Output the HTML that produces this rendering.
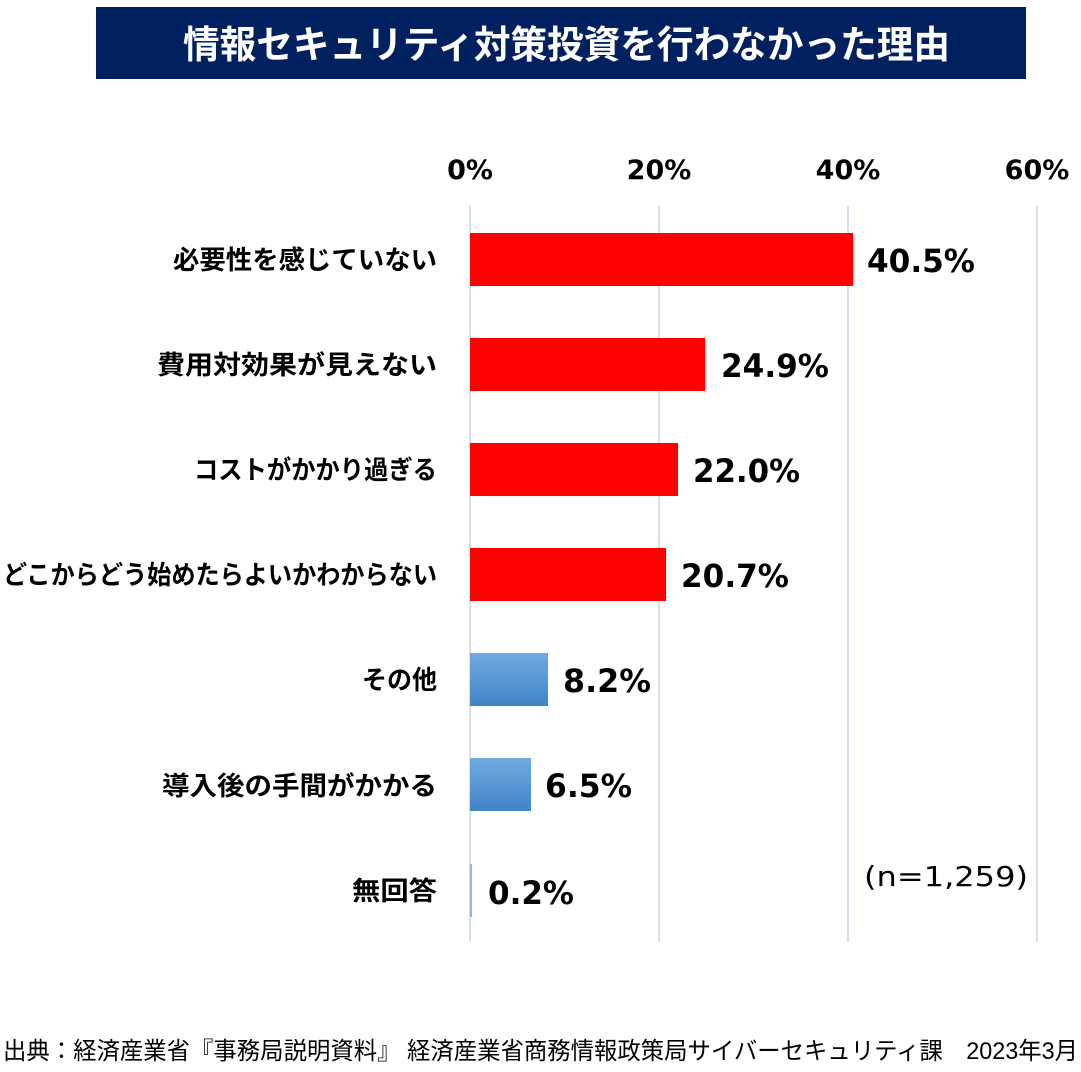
<!DOCTYPE html>
<html>
<head>
<meta charset="utf-8">
<style>
  html,body{margin:0;padding:0;background:#fff;}
  svg{display:block;}
  .cat{font-family:"Liberation Sans","Noto Sans CJK JP",sans-serif;font-weight:bold;font-size:26px;fill:#000;}
  .val{font-family:"DejaVu Sans","Liberation Sans",sans-serif;font-weight:bold;font-size:32px;fill:#000;}
  .ax{font-family:"DejaVu Sans","Liberation Sans",sans-serif;font-weight:bold;font-size:27px;fill:#000;}
</style>
</head>
<body>
<svg width="1081" height="1072" viewBox="0 0 1081 1072" xmlns="http://www.w3.org/2000/svg">
  <defs>
    <linearGradient id="blue" x1="0" y1="0" x2="0" y2="1">
      <stop offset="0" stop-color="#72A9DF"/>
      <stop offset="1" stop-color="#4184C8"/>
    </linearGradient>
  </defs>
  <rect x="0" y="0" width="1081" height="1072" fill="#fff"/>

  <!-- Title -->
  <rect x="96" y="7" width="930" height="72" fill="#002060"/>
  <text x="183" y="58" font-family="Liberation Sans, Noto Sans CJK JP, sans-serif" font-weight="bold" font-size="38" fill="#fff" textLength="767" lengthAdjust="spacingAndGlyphs">情報セキュリティ対策投資を行わなかった理由</text>

  <!-- Axis labels -->
  <text class="ax" x="470" y="179" text-anchor="middle">0%</text>
  <text class="ax" x="659" y="179" text-anchor="middle">20%</text>
  <text class="ax" x="848" y="179" text-anchor="middle">40%</text>
  <text class="ax" x="1037" y="179" text-anchor="middle">60%</text>

  <!-- Gridlines -->
  <g stroke="#D9DFEA" stroke-width="2">
    <line x1="470" y1="206" x2="470" y2="942"/>
    <line x1="659" y1="206" x2="659" y2="942"/>
    <line x1="848" y1="206" x2="848" y2="942"/>
    <line x1="1037" y1="206" x2="1037" y2="942"/>
  </g>

  <!-- Bars -->
  <rect x="470" y="233" width="383" height="53" fill="#FF0000"/>
  <rect x="470" y="338" width="235" height="53" fill="#FF0000"/>
  <rect x="470" y="443" width="208" height="53" fill="#FF0000"/>
  <rect x="470" y="548" width="196" height="53" fill="#FF0000"/>
  <rect x="470" y="653" width="78" height="53" fill="url(#blue)"/>
  <rect x="470" y="758" width="61" height="53" fill="url(#blue)"/>
  <rect x="470" y="864" width="2" height="53" fill="#8DB9E6"/>

  <!-- Category labels -->
  <text class="cat" x="437" y="269" text-anchor="end" textLength="264" lengthAdjust="spacingAndGlyphs">必要性を感じていない</text>
  <text class="cat" x="437" y="374" text-anchor="end" textLength="280" lengthAdjust="spacingAndGlyphs">費用対効果が見えない</text>
  <text class="cat" x="437" y="479" text-anchor="end" textLength="243" lengthAdjust="spacingAndGlyphs">コストがかかり過ぎる</text>
  <text class="cat" x="437" y="584" text-anchor="end" textLength="434" lengthAdjust="spacingAndGlyphs">どこからどう始めたらよいかわからない</text>
  <text class="cat" x="437" y="689" text-anchor="end" textLength="75" lengthAdjust="spacingAndGlyphs">その他</text>
  <text class="cat" x="437" y="795" text-anchor="end" textLength="275" lengthAdjust="spacingAndGlyphs">導入後の手間がかかる</text>
  <text class="cat" x="437" y="900" text-anchor="end" textLength="85" lengthAdjust="spacingAndGlyphs">無回答</text>

  <!-- Value labels -->
  <text class="val" x="867" y="272" textLength="108" lengthAdjust="spacingAndGlyphs">40.5%</text>
  <text class="val" x="721" y="377" textLength="108" lengthAdjust="spacingAndGlyphs">24.9%</text>
  <text class="val" x="693" y="482" textLength="107" lengthAdjust="spacingAndGlyphs">22.0%</text>
  <text class="val" x="681" y="587" textLength="108" lengthAdjust="spacingAndGlyphs">20.7%</text>
  <text class="val" x="563" y="692" textLength="88" lengthAdjust="spacingAndGlyphs">8.2%</text>
  <text class="val" x="545" y="797" textLength="87" lengthAdjust="spacingAndGlyphs">6.5%</text>
  <text class="val" x="488" y="904" textLength="86" lengthAdjust="spacingAndGlyphs">0.2%</text>

  <!-- n -->
  <text x="864" y="886" font-family="DejaVu Sans, Liberation Sans, sans-serif" font-size="28" fill="#000" textLength="164" lengthAdjust="spacingAndGlyphs">(n=1,259)</text>

  <!-- Footer -->
  <text x="3" y="1059" font-family="Liberation Sans, Noto Sans CJK JP, sans-serif" font-size="24" fill="#000" textLength="1075" lengthAdjust="spacingAndGlyphs">出典：経済産業省『事務局説明資料』 経済産業省商務情報政策局サイバーセキュリティ課　2023年3月</text>
</svg>
</body>
</html>
